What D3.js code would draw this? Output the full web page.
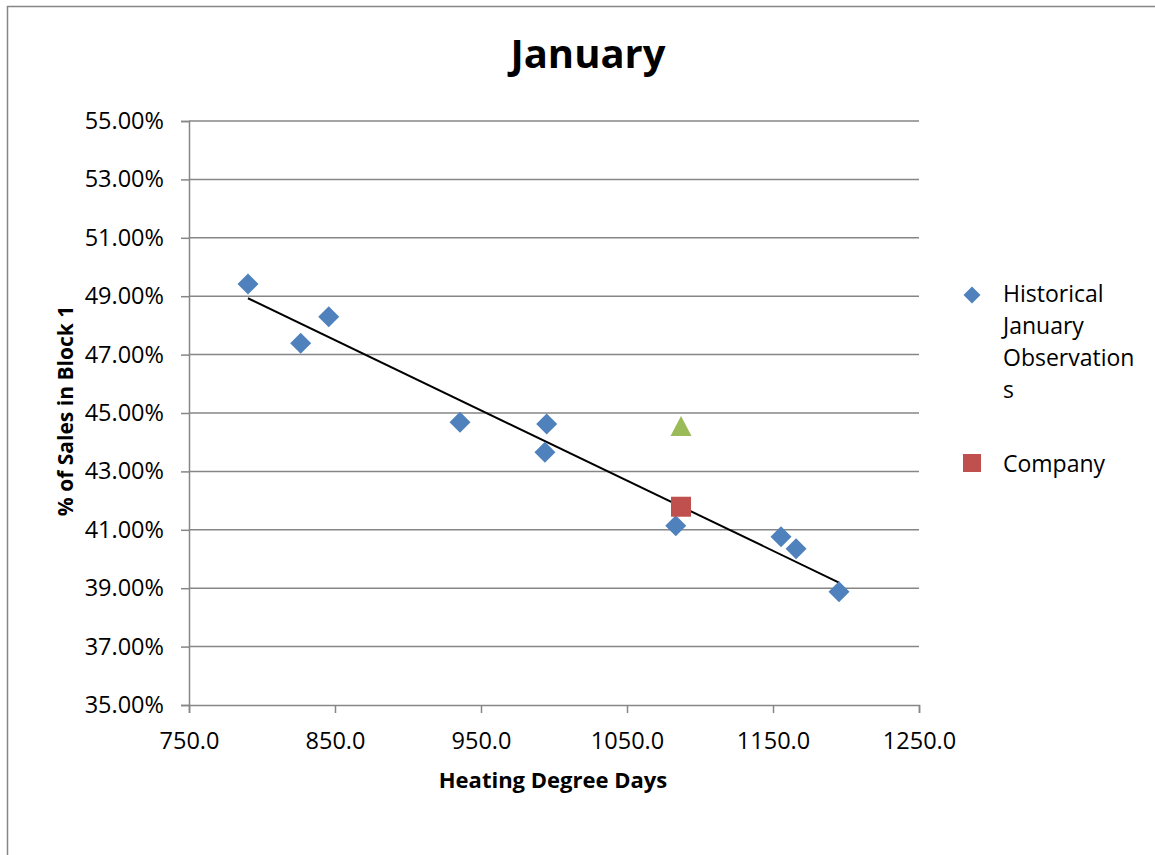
<!DOCTYPE html>
<html><head><meta charset="utf-8">
<script src="https://cdn.jsdelivr.net/npm/d3@7"></script>
<style>body{margin:0;background:#fff;} text{font-family:"Open Sans",Lato,sans-serif;fill:#000;}</style>
</head><body><svg id="c" width="1155" height="855"></svg>
<script>
const histHDD = [790.4, 826.5, 845.7, 935.6, 995.0, 993.8, 1083.4, 1155.5, 1165.8, 1195.2];
const histPct = [49.42, 47.39, 48.30, 44.68, 44.62, 43.66, 41.14, 40.76, 40.35, 38.88];
const companyHDD = [1087];
const companyPct = [41.79];
const otherHDD = [1087];
const otherPct = [44.52];
const xTicks = [750, 850, 950, 1050, 1150, 1250];
const yTicks = [35, 37, 39, 41, 43, 45, 47, 49, 51, 53, 55];
const legendLabels = [["Historical","January","Observation","s"],["Company"]];

const svg = d3.select("#c");
svg.append("rect").attr("x",7.5).attr("y",6.5).attr("width",1200).attr("height",900)
  .attr("fill","#fff").attr("stroke","#868686").attr("stroke-width",1.5);

const L=189, R=919, T=121, B=705;
const x = d3.scaleLinear().domain([750,1250]).range([L,R]);
const y = d3.scaleLinear().domain([35,55]).range([B,T]);
const grid="#868686";

svg.append("g").selectAll("line").data(yTicks.filter(d=>d>35)).join("line")
  .attr("x1",L).attr("x2",R).attr("y1",d=>y(d)).attr("y2",d=>y(d))
  .attr("stroke",grid).attr("stroke-width",1.5);

const xa = svg.append("g").attr("transform",`translate(0,${B})`)
  .call(d3.axisBottom(x).tickValues(xTicks).tickFormat(d3.format(".1f")).tickSizeOuter(0).tickSize(8).tickPadding(19));
const ya = svg.append("g").attr("transform",`translate(${L},0)`)
  .call(d3.axisLeft(y).tickValues(yTicks).tickFormat(d=>d.toFixed(2)+"%").tickSizeOuter(0).tickSize(8).tickPadding(17));
[xa,ya].forEach(a=>{
  a.selectAll("path,line").attr("stroke",grid).attr("stroke-width",1.5);
  a.selectAll("text").attr("font-size",23.5).attr("fill","#000").style("font-family","'Open Sans'");
});

const n=histHDD.length, mx=d3.mean(histHDD), my=d3.mean(histPct);
let sxy=0,sxx=0; for(let i=0;i<n;i++){sxy+=(histHDD[i]-mx)*(histPct[i]-my); sxx+=(histHDD[i]-mx)**2;}
const slope=sxy/sxx, icpt=my-slope*mx;
const x0=d3.min(histHDD), x1=d3.max(histHDD);
svg.append("line").attr("x1",x(x0)).attr("y1",y(icpt+slope*x0)).attr("x2",x(x1)).attr("y2",y(icpt+slope*x1))
  .attr("stroke","#000").attr("stroke-width",2);

const diamond = s=>`M0,${-s}L${s},0L0,${s}L${-s},0Z`;
const square = s=>`M${-s},${-s}H${s}V${s}H${-s}Z`;
const tri = s=>`M0,${-s*1.05}L${s},${s*0.85}L${-s},${s*0.85}Z`;

svg.append("g").selectAll("path").data(histHDD.map((d,i)=>[d,histPct[i]])).join("path")
  .attr("d",diamond(10.5)).attr("transform",d=>`translate(${x(d[0])},${y(d[1])})`).attr("fill","#4F81BD");
svg.append("g").selectAll("path").data(otherHDD.map((d,i)=>[d,otherPct[i]])).join("path")
  .attr("d",tri(10.5)).attr("transform",d=>`translate(${x(d[0])},${y(d[1])})`).attr("fill","#9BBB59");
svg.append("g").selectAll("path").data(companyHDD.map((d,i)=>[d,companyPct[i]])).join("path")
  .attr("d",square(10)).attr("transform",d=>`translate(${x(d[0])},${y(d[1])})`).attr("fill","#C0504D");

svg.append("text").attr("x",588).attr("y",68).attr("text-anchor","middle").attr("font-size",40).attr("font-weight","bold").text("January");
svg.append("text").attr("x",553).attr("y",788).attr("text-anchor","middle").attr("font-size",22).attr("font-weight","bold").text("Heating Degree Days");
svg.append("text").attr("transform","translate(73,411) rotate(-90)").attr("text-anchor","middle").attr("font-size",21).attr("font-weight","bold").text("% of Sales in Block 1");

svg.append("path").attr("d",diamond(8.5)).attr("transform","translate(972,295)").attr("fill","#4F81BD");
const lt=svg.append("text").attr("font-size",23);
legendLabels[0].forEach((s,i)=>lt.append("tspan").attr("x",1003).attr("y",302+i*32).text(s));
svg.append("path").attr("d",square(9)).attr("transform","translate(972,463)").attr("fill","#C0504D");
svg.append("text").attr("x",1003).attr("y",472).attr("font-size",23).text(legendLabels[1][0]);
</script></body></html>
